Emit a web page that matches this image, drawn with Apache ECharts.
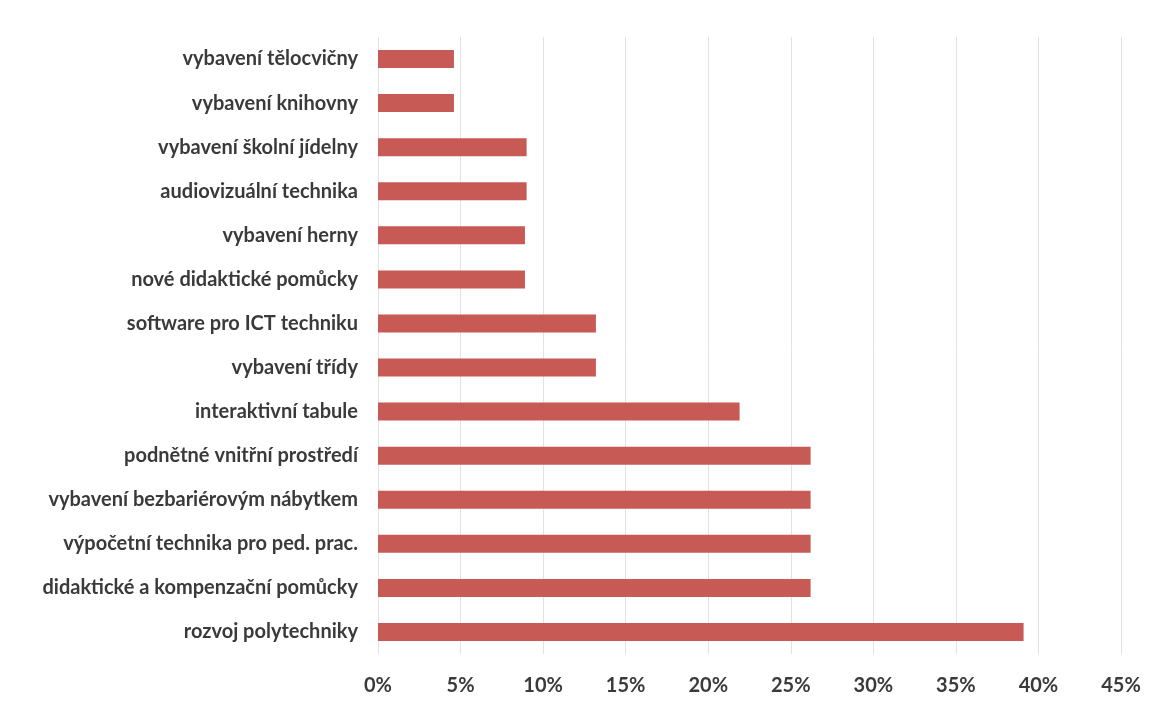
<!DOCTYPE html>
<html>
<head>
<meta charset="utf-8">
<script src="https://cdn.jsdelivr.net/npm/echarts@6/dist/echarts.min.js"></script>
<style>
    html, body { margin: 0; padding: 0; background: #fff; }
    #chart { width: 1158px; height: 707px; }
</style>
</head>
<body>
<div id="chart"></div>
<script>
// kategorie shora dolů
const categories = [
    'vybavení tělocvičny',
    'vybavení knihovny',
    'vybavení školní jídelny',
    'audiovizuální technika',
    'vybavení herny',
    'nové didaktické pomůcky',
    'software pro ICT techniku',
    'vybavení třídy',
    'interaktivní tabule',
    'podnětné vnitřní prostředí',
    'vybavení bezbariérovým nábytkem',
    'výpočetní technika pro ped. prac.',
    'didaktické a kompenzační pomůcky',
    'rozvoj polytechniky'
];
const values = [4.6, 4.6, 9.0, 9.0, 8.9, 8.9, 13.2, 13.2, 21.9, 26.2, 26.2, 26.2, 26.2, 39.1];
const xTicks = [0, 5, 10, 15, 20, 25, 30, 35, 40, 45];

const labelFont = {
    fontFamily: 'Lato',
    fontWeight: 700,
    fontSize: 20,
    color: '#3a3a3a'
};

const myChart = echarts.init(document.getElementById('chart'));
const option = {
    animation: false,
    grid: { left: 378, right: 37, top: 37, bottom: 53 },
    xAxis: {
        type: 'value',
        min: xTicks[0],
        max: xTicks[xTicks.length - 1],
        interval: 5,
        axisLine: { show: false },
        axisTick: { show: false },
        splitLine: { show: true, lineStyle: { color: '#e2e2e2', width: 1 } },
        axisLabel: Object.assign({ margin: 22, formatter: '{value}%' }, labelFont)
    },
    yAxis: {
        type: 'category',
        inverse: true,
        data: categories,
        axisLine: { show: false },
        axisTick: { show: false },
        axisLabel: Object.assign({ margin: 20 }, labelFont)
    },
    series: [{
        type: 'bar',
        data: values,
        barWidth: 18,
        itemStyle: { color: '#c85a55' }
    }]
};
myChart.setOption(option);
</script>
</body>
</html>
